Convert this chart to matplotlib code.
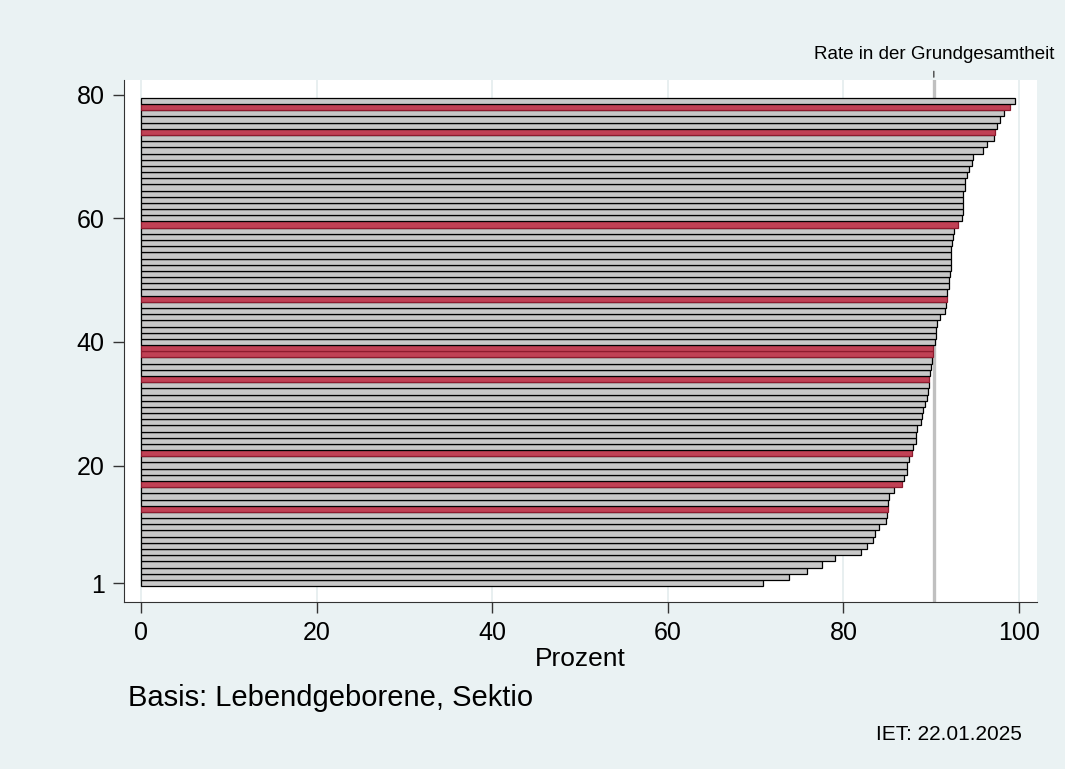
from matplotlib import pyplot as plt

# Rate je Klinik, aufsteigend sortiert (Rang 1 = niedrigste Rate)
rates = [70.8, 73.8, 75.9, 77.6, 79.0, 82.0, 82.7, 83.4, 83.6, 84.0,
         84.9, 85.0, 85.1, 85.1, 85.2, 85.8, 86.7, 86.9, 87.3, 87.3,
         87.5, 87.8, 87.9, 88.3, 88.3, 88.4, 88.8, 88.9, 89.1, 89.3,
         89.5, 89.6, 89.7, 89.8, 89.9, 90.0, 90.1, 90.2, 90.2, 90.4,
         90.5, 90.5, 90.7, 91.0, 91.6, 91.7, 91.75, 91.8, 92.0, 92.0,
         92.1, 92.2, 92.2, 92.2, 92.2, 92.4, 92.5, 92.6, 93.1, 93.5,
         93.6, 93.6, 93.6, 93.6, 93.8, 93.9, 94.1, 94.3, 94.6, 94.8,
         95.9, 96.4, 97.1, 97.3, 97.5, 97.8, 98.3, 99.0, 99.5]
highlighted = [13, 17, 22, 34, 38, 39, 47, 59, 74, 78]
overall_rate = 90.3
xticks = [0, 20, 40, 60, 80, 100]
yticks = [1, 20, 40, 60, 80]

BG = "#eaf2f3"
GREY = "#c8c8c8"
RED = "#c14155"
RED_EDGE = "#8e1b2e"


def main():
    plt.rcParams['font.family'] = ['Liberation Sans', 'DejaVu Sans']

    fig = plt.figure(figsize=(10.65, 7.69), dpi=100, facecolor=BG)
    ax = fig.add_axes([0.1164, 0.2172, 0.8573, 0.6788])
    ax.set_facecolor("white")

    ranks = list(range(1, len(rates) + 1))
    colors = [RED if r in highlighted else GREY for r in ranks]
    edges = [RED_EDGE if r in highlighted else "black" for r in ranks]
    ax.barh(ranks, rates, height=1.0, color=colors, edgecolor=edges,
            linewidth=0.9, zorder=3)

    ax.axvline(overall_rate, color="#c0c0c0", linewidth=2.4, zorder=2)
    ax.annotate("", xy=(overall_rate, 1.0), xycoords=("data", "axes fraction"),
                xytext=(overall_rate, 1.022),
                textcoords=("data", "axes fraction"),
                arrowprops=dict(arrowstyle="-", color="#333333", lw=0.9))
    ax.text(overall_rate, 1.048, "Rate in der Grundgesamtheit",
            transform=ax.get_xaxis_transform(), ha="center", va="center",
            fontsize=13.5)

    ax.set_xlim(-1.94, 102.05)
    ax.set_ylim(-2.07, 82.4)
    ax.set_xticks(xticks)
    ax.set_yticks(yticks)
    ax.tick_params(labelsize=18, length=8, width=1, color="#333333",
                   pad=6)
    ax.xaxis.grid(True, color="#e4ecee", linewidth=1.2, zorder=0)
    ax.set_axisbelow(True)
    for side in ["top", "right"]:
        ax.spines[side].set_visible(False)
    for side in ["left", "bottom"]:
        ax.spines[side].set_color("#333333")

    ax.set_xlabel("Prozent", fontsize=19, labelpad=1)

    fig.text(128 / 1065, 1 - 698 / 769, "Basis: Lebendgeborene, Sektio",
             ha="left", va="center", fontsize=21)
    fig.text(1022 / 1065, 1 - 735 / 769, "IET: 22.01.2025",
             ha="right", va="center", fontsize=15)

    fig.savefig("out.png", dpi=100, facecolor=BG)


if __name__ == "__main__":
    main()
